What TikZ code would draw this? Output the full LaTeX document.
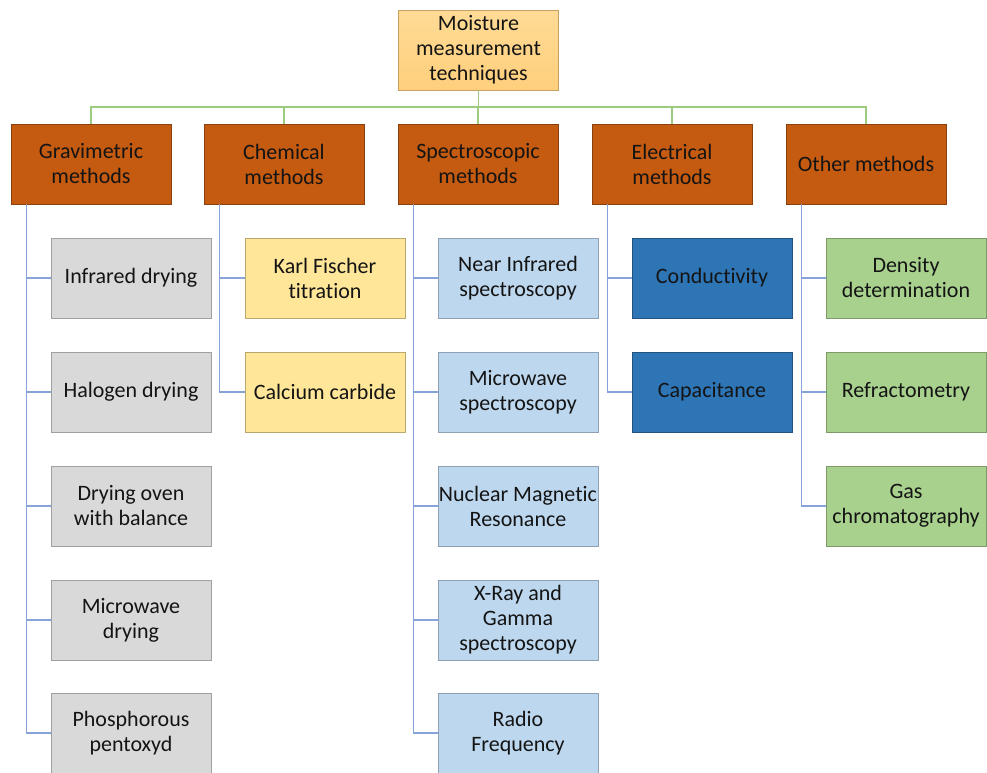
\documentclass[tikz,border=0pt]{standalone}
\usepackage{fontspec}
\setmainfont[Ligatures=NoCommon]{Carlito}
\definecolor{catfill}{HTML}{C55A11}
\definecolor{catline}{HTML}{8A3F0E}
\definecolor{topA}{HTML}{FFDB96}
\definecolor{topB}{HTML}{FFCF7C}
\definecolor{topline}{HTML}{C8A060}
\definecolor{greyfill}{HTML}{D9D9D9}
\definecolor{greyline}{HTML}{A0A0A0}
\definecolor{yelfill}{HTML}{FFE699}
\definecolor{yelline}{HTML}{B8A870}
\definecolor{lbfill}{HTML}{BDD7EE}
\definecolor{lbline}{HTML}{8EA0B4}
\definecolor{dbfill}{HTML}{2E75B6}
\definecolor{dbline}{HTML}{22527E}
\definecolor{grfill}{HTML}{A9D18E}
\definecolor{grline}{HTML}{7E9A6A}
\definecolor{busgreen}{HTML}{9CCB80}
\definecolor{busblue}{HTML}{86A4DA}
\tikzset{
  x=1pt, y=-1pt,
  card/.style={draw, line width=0.9pt, minimum width=160pt, minimum height=80pt,
    inner sep=0pt, align=center,
    font=\fontsize{22}{25}\selectfont, text=black!92},
  cat/.style={card, fill=catfill, draw=catline},
  grey/.style={card, fill=greyfill, draw=greyline},
  yel/.style={card, fill=yelfill, draw=yelline},
  lblue/.style={card, fill=lbfill, draw=lbline},
  dblue/.style={card, fill=dbfill, draw=dbline},
  lgreen/.style={card, fill=grfill, draw=grline},
  gbus/.style={draw=busgreen, line width=1.6pt},
  bbus/.style={draw=busblue, line width=1.6pt},
}
\begin{document}
\begin{tikzpicture}
\useasboundingbox (0,0) rectangle (987,772);

% root
\node[card, top color=topA, bottom color=topB, draw=topline] (root) at (478.5,50) {Moisture\\measurement\\techniques};

% categories
\node[cat] (grav) at (91,164)  {Gravimetric\\methods};
\node[cat] (chem) at (284,164) {Chemical\\methods};
\node[cat] (spec) at (478,164) {Spectroscopic\\methods};
\node[cat] (elec) at (672,164) {Electrical\\methods};
\node[cat] (oth)  at (866,164) {Other methods};

% gravimetric methods
\node[grey] (g1) at (131,278) {Infrared drying};
\node[grey] (g2) at (131,392) {Halogen drying};
\node[grey] (g3) at (131,506) {Drying oven\\with balance};
\node[grey] (g4) at (131,620) {Microwave\\drying};
\node[grey] (g5) at (131,733) {Phosphorous\\pentoxyd};

% chemical methods
\node[yel] (c1) at (325,278) {Karl Fischer\\titration};
\node[yel] (c2) at (325,392) {Calcium carbide};

% spectroscopic methods
\node[lblue] (s1) at (518,278) {Near Infrared\\spectroscopy};
\node[lblue] (s2) at (518,392) {Microwave\\spectroscopy};
\node[lblue] (s3) at (518,506) {Nuclear Magnetic\\Resonance};
\node[lblue] (s4) at (518,620) {X-Ray and\\Gamma\\spectroscopy};
\node[lblue] (s5) at (518,733) {Radio\\Frequency};

% electrical methods
\node[dblue] (e1) at (712,278) {Conductivity};
\node[dblue] (e2) at (712,392) {Capacitance};

% other methods
\node[lgreen] (o1) at (906,278) {Density\\determination};
\node[lgreen] (o2) at (906,392) {Refractometry};
\node[lgreen] (o3) at (906,506) {Gas\\chromatography};

% root to categories
\coordinate (bus) at (0,107);
\foreach \c in {grav,chem,spec,elec,oth}
  \draw[gbus] (root.south) -- (root.south |- bus) -| (\c.north);

% categories to their methods
\foreach \c/\list in {grav/{g1,g2,g3,g4,g5}, chem/{c1,c2}, spec/{s1,s2,s3,s4,s5}, elec/{e1,e2}, oth/{o1,o2,o3}}
  \foreach \m in \list
    \draw[bbus] ([xshift=16pt]\c.south west) |- (\m.west);
\end{tikzpicture}
\end{document}
